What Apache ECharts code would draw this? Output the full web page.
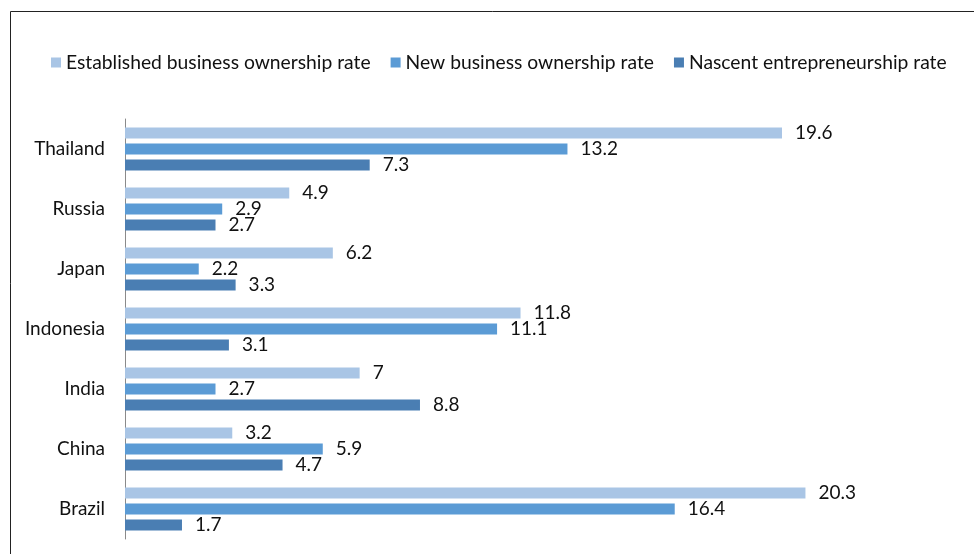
<!DOCTYPE html>
<html>
<head>
<meta charset="utf-8">
<script src="https://cdn.jsdelivr.net/npm/echarts@6/dist/echarts.min.js"></script>
<style>
  html, body { margin: 0; padding: 0; background: #fff; }
  #chart { width: 974px; height: 554px; }
</style>
</head>
<body>
<div id="chart"></div>
<script>
// Countries, listed top to bottom
const countries = ['Thailand', 'Russia', 'Japan', 'Indonesia', 'India', 'China', 'Brazil'];

const seriesNames = [
  'Established business ownership rate',
  'New business ownership rate',
  'Nascent entrepreneurship rate'
];

const established = [19.6, 4.9, 6.2, 11.8, 7, 3.2, 20.3];
const newBusiness = [13.2, 2.9, 2.2, 11.1, 2.7, 5.9, 16.4];
const nascent = [7.3, 2.7, 3.3, 3.1, 8.8, 4.7, 1.7];

const colors = ['#A9C5E5', '#5B9BD5', '#4A7EB3'];
const FONT = 'Lato';

const chart = echarts.init(document.getElementById('chart'));

function barSeries(name, values, color) {
  return {
    name: name,
    type: 'bar',
    data: values,
    barWidth: 11,
    barGap: '45%',
    itemStyle: { color: color },
    label: {
      show: true,
      position: 'right',
      distance: 13,
      color: '#111',
      fontFamily: FONT,
      fontSize: 19
    },
    emphasis: { disabled: true }
  };
}

chart.setOption({
  animation: false,
  color: colors,
  textStyle: { fontFamily: FONT },
  graphic: [{
    type: 'rect',
    shape: { x: 10.5, y: 11.5, width: 1000, height: 600 },
    style: { fill: 'none', stroke: '#222', lineWidth: 1 },
    silent: true
  }],
  legend: {
    left: 46,
    top: 48,
    itemWidth: 10,
    itemHeight: 10,
    itemGap: 20,
    icon: 'rect',
    textStyle: { fontFamily: FONT, fontSize: 19.3, color: '#111' },
    data: seriesNames
  },
  grid: { left: 125, top: 119, height: 420, width: 838, containLabel: false },
  xAxis: {
    type: 'value',
    min: 0,
    max: 25,
    show: false
  },
  yAxis: {
    type: 'category',
    data: countries,
    inverse: true,
    axisLine: { show: true, lineStyle: { color: '#8a8a8a', width: 1 } },
    axisTick: { show: false },
    axisLabel: { color: '#111', fontFamily: FONT, fontSize: 19, margin: 20 }
  },
  series: [
    barSeries(seriesNames[0], established, colors[0]),
    barSeries(seriesNames[1], newBusiness, colors[1]),
    barSeries(seriesNames[2], nascent, colors[2])
  ]
});
</script>
</body>
</html>
